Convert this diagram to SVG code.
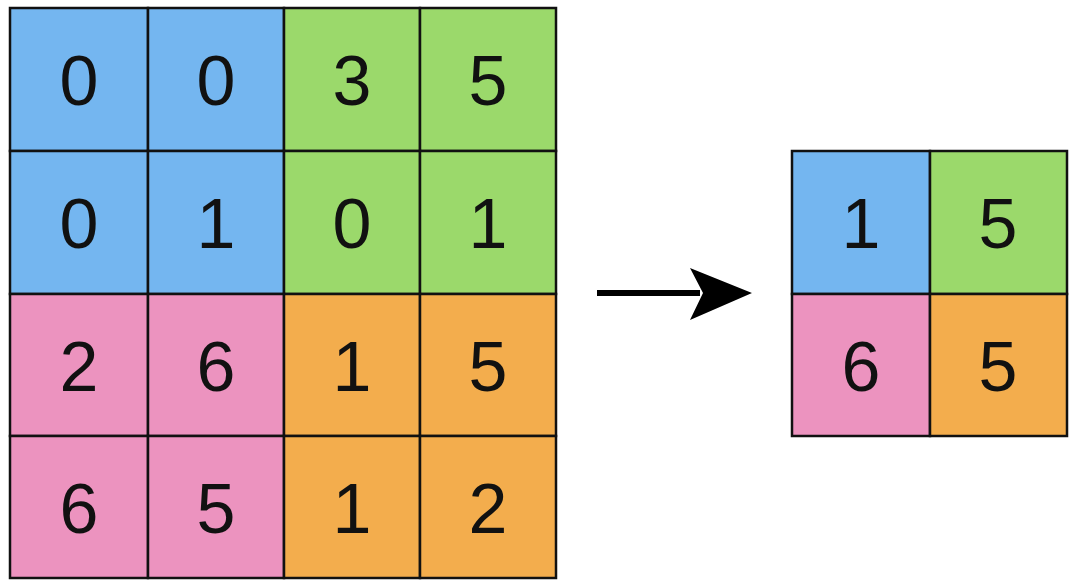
<svg xmlns="http://www.w3.org/2000/svg" width="1076" height="587" viewBox="0 0 1076 587">
<style>
.c{stroke:#111;stroke-width:2.5}
.b{fill:#74b6f0}.g{fill:#9bd96b}.p{fill:#ec93bf}.o{fill:#f3ad4d}
text{font-family:"Liberation Sans",Arial,sans-serif;font-size:70px;fill:#111;text-anchor:middle;dominant-baseline:central}
</style>
<rect x="0" y="0" width="1076" height="587" fill="#fff"/>
<g id="input">
<rect class="c b" x="10" y="8" width="138" height="143"/><text x="79" y="81">0</text>
<rect class="c b" x="148" y="8" width="136" height="143"/><text x="216" y="81">0</text>
<rect class="c g" x="284" y="8" width="136" height="143"/><text x="352" y="81">3</text>
<rect class="c g" x="420" y="8" width="136" height="143"/><text x="488" y="81">5</text>
<rect class="c b" x="10" y="151" width="138" height="143"/><text x="79" y="224">0</text>
<rect class="c b" x="148" y="151" width="136" height="143"/><text x="216" y="224">1</text>
<rect class="c g" x="284" y="151" width="136" height="143"/><text x="352" y="224">0</text>
<rect class="c g" x="420" y="151" width="136" height="143"/><text x="488" y="224">1</text>
<rect class="c p" x="10" y="294" width="138" height="142"/><text x="79" y="367">2</text>
<rect class="c p" x="148" y="294" width="136" height="142"/><text x="216" y="367">6</text>
<rect class="c o" x="284" y="294" width="136" height="142"/><text x="352" y="367">1</text>
<rect class="c o" x="420" y="294" width="136" height="142"/><text x="488" y="367">5</text>
<rect class="c p" x="10" y="436" width="138" height="142"/><text x="79" y="509">6</text>
<rect class="c p" x="148" y="436" width="136" height="142"/><text x="216" y="509">5</text>
<rect class="c o" x="284" y="436" width="136" height="142"/><text x="352" y="509">1</text>
<rect class="c o" x="420" y="436" width="136" height="142"/><text x="488" y="509">2</text>
</g>
<g id="output">
<rect class="c b" x="792" y="151" width="138" height="143"/><text x="861" y="224">1</text>
<rect class="c g" x="930" y="151" width="137" height="143"/><text x="998" y="224">5</text>
<rect class="c p" x="792" y="294" width="138" height="142"/><text x="861" y="367">6</text>
<rect class="c o" x="930" y="294" width="137" height="142"/><text x="998" y="367">5</text>
</g>
<g id="connectors">
<line x1="597" y1="293" x2="700" y2="293" stroke="#000" stroke-width="6"/>
<polygon points="752,293 690,268 703,293 690,320" fill="#000"/>
</g>
</svg>
